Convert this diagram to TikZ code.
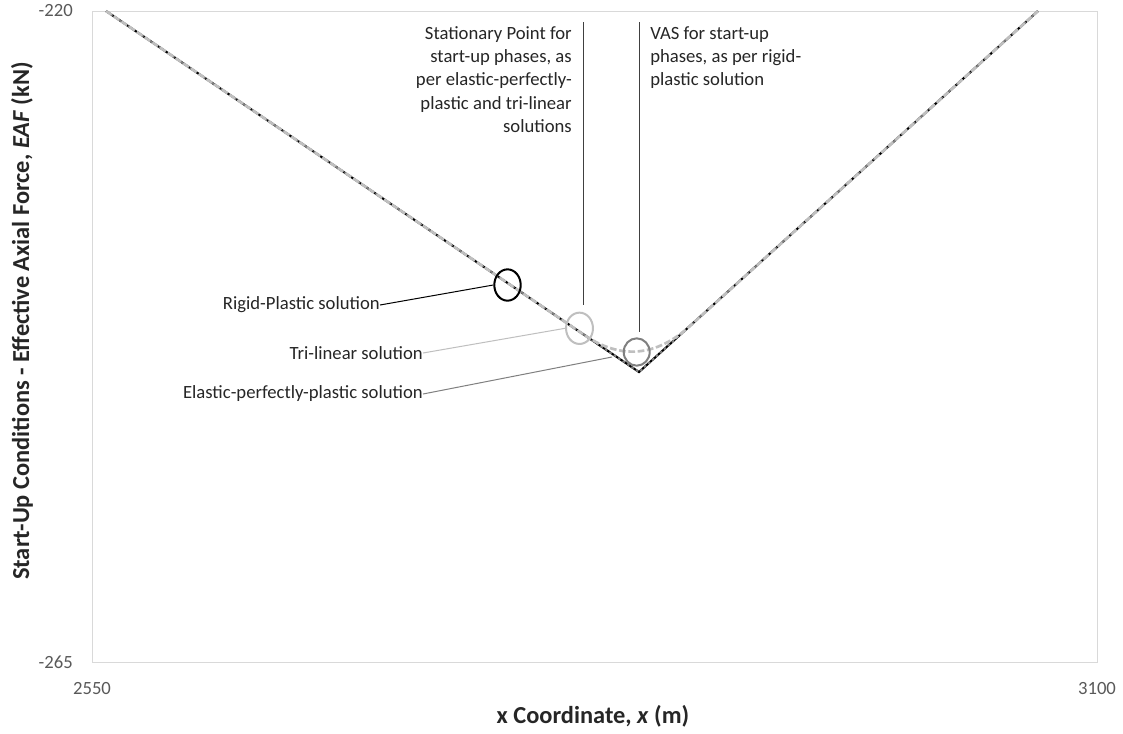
\documentclass[tikz,border=0pt]{standalone}
\usepackage{fontspec}
\setmainfont{Carlito}
\usetikzlibrary{shapes.geometric,calc}
\definecolor{framegray}{HTML}{D9D9D9}
\definecolor{ticktext}{HTML}{595959}
\definecolor{labeltext}{HTML}{262626}
\definecolor{trigray}{HTML}{BFBFBF}
\definecolor{eppgray}{HTML}{808080}
\definecolor{markgray}{HTML}{404040}

\begin{document}
\begin{tikzpicture}[x=0.75pt,y=-0.75pt,
  tick/.style={text=ticktext,font=\fontsize{14}{17}\selectfont,inner sep=0pt},
  note/.style={text=labeltext,font=\fontsize{14}{17.5}\selectfont,inner sep=0pt},
  axtitle/.style={text=labeltext,font=\bfseries\fontsize{18.3}{22}\selectfont,inner sep=0pt},
  ring/.style={ellipse,draw,line width=1.5pt,inner sep=0pt},
  leader/.style={line width=0.75pt},
  rigidcurve/.style={black,line width=1.6pt,line join=miter},
  eppcurve/.style={eppgray,line width=1.4pt,dash pattern=on 2pt off 2pt},
  tricurve/.style={trigray,line width=2pt,dash pattern=on 5pt off 2pt,line join=round}
]
\useasboundingbox (0,0) rectangle (1123,733);
\fill[white] (0,0) rectangle (1123,733);

% plot area frame
\draw[framegray,line width=0.75pt] (92,11) rectangle (1097,662);

% axis tick labels
\node[tick,anchor=east] (y220) at (73,11) {-220};
\node[tick,anchor=east] (y265) at (73,662) {-265};
\node[tick] (x2550) at (92,688) {2550};
\node[tick] (x3100) at (1097,688) {3100};

% axis titles
\node[axtitle] (xtitle) at (593,716) {x Coordinate, \textit{x} (m)};
\node[axtitle,rotate=90] (ytitle) at (22,321) {Start-Up Conditions - Effective Axial Force, \textit{EAF} (kN)};

% effective axial force profiles
\coordinate (left end) at (106,11);
\coordinate (vertex) at (639,372);
\coordinate (right end) at (1038,11);
\draw[rigidcurve] (left end) -- (vertex) -- (right end);
\draw[eppcurve] (left end) -- (vertex) -- (right end);
\draw[tricurve] (left end) -- (585,335.4) .. controls (621,359.8) and (656,356.7) .. (690,326) -- (right end);

% highlight rings
\node[ring,black,minimum width=19.8pt,minimum height=23.5pt] (rp) at (507.5,285) {};
\node[ring,trigray,minimum width=20.2pt,minimum height=23.5pt] (tl) at (579.5,328.3) {};
\node[ring,eppgray,minimum width=19.5pt,minimum height=20.5pt] (epp) at (636.7,352) {};

% solution labels and leaders
\node[note,anchor=east] (rp label) at (380,305) {Rigid-Plastic solution};
\node[note,anchor=east] (tl label) at (423,353) {Tri-linear solution};
\node[note,anchor=east] (epp label) at (423,394) {Elastic-perfectly-plastic solution};
\coordinate (epp tip) at (612,357);
\draw[leader,black] (rp label.east) -- (rp.west);
\draw[leader,trigray] (tl label.east) -- (tl.west);
\draw[leader,eppgray] (epp label.east) -- (epp tip);

% stationary point and VAS markers
\node[note,anchor=north east,align=right] (sp text) at (572,26)
  {Stationary Point for\\start-up phases, as\\per elastic-perfectly-\\plastic and tri-linear\\solutions};
\node[note,anchor=north west,align=left] (vas text) at (650,26)
  {VAS for start-up\\phases, as per rigid-\\plastic solution};
\coordinate (sp top) at (583,22);
\coordinate (sp foot) at (583,305);
\coordinate (vas top) at (639,22);
\coordinate (vas foot) at (639,332);
\draw[leader,markgray] (sp top) -- (sp foot);
\draw[leader,markgray] (vas top) -- (vas foot);
\end{tikzpicture}
\end{document}
